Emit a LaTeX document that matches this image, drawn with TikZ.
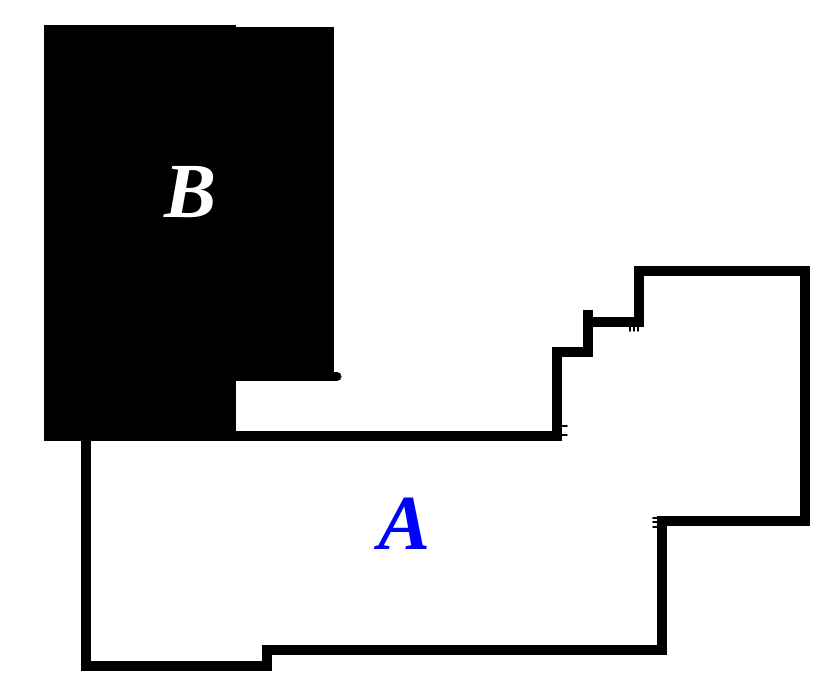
\documentclass[tikz,border=0pt]{standalone}
\usepackage{fontspec}
\setmainfont{Liberation Serif}
\tikzset{
  wall/.style={line width=10pt, line join=miter, draw=black},
  tick/.style={line width=1.6pt, line cap=round, draw=black},
  biglabel/.style={font=\fontsize{78}{80}\selectfont\bfseries\itshape, inner sep=0pt}
}
\begin{document}
\begin{tikzpicture}[x=1pt,y=-1pt]
\useasboundingbox (0,0) rectangle (828,675);
% region B
\fill[black] (44,25) rectangle (236,441);
\fill[black] (236,27) rectangle (334,381);
\draw[line width=9pt, line cap=round] (300,376.5) -- (337,376.5);
% region A outline
\draw[wall] (86,436) -- (86,666) -- (267,666) -- (267,650) -- (662,650)
  -- (662,521) -- (805,521) -- (805,271) -- (639,271) -- (639,322)
  -- (588,322) -- (588,352) -- (557,352) -- (557,436) -- cycle;
\draw[line width=10pt, line cap=butt] (588,322) -- (588,310);
% small stubs
\draw[tick] (562,426) -- (567,426);
\draw[tick] (562,435) -- (567,435);
\draw[tick] (630,327) -- (630,331);
\draw[tick] (634,327) -- (634,331);
\draw[tick] (638,327) -- (638,331);
\draw[tick] (653,518) -- (658,518);
\draw[tick] (653,522) -- (658,522);
\draw[tick] (653,527) -- (658,527);
% labels
\node[biglabel, text=white] (labB) at (191,192) {B};
\node[biglabel, text=blue] (labA) at (405,524) {A};
\end{tikzpicture}
\end{document}
